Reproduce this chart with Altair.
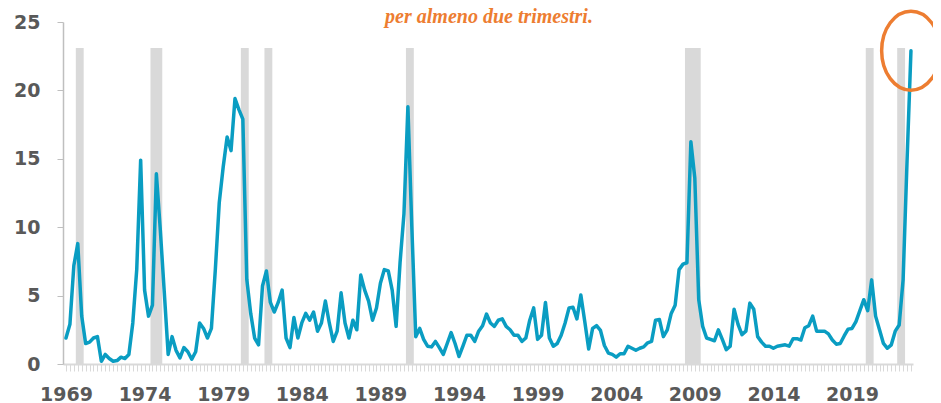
import altair as alt
import pandas as pd

start_year = 1969
values = [
    1.9, 2.9, 7.2, 8.8, 3.5, 1.5, 1.6, 1.9, 2.0, 0.2,
    0.7, 0.4, 0.2, 0.25, 0.5, 0.4, 0.7, 3.0, 6.9, 14.9,
    5.4, 3.5, 4.3, 13.9, 9.8, 5.3, 0.7, 2.0, 1.0, 0.45,
    1.2, 0.9, 0.35, 0.9, 3.0, 2.6, 1.9, 2.6, 6.9, 11.8,
    14.4, 16.6, 15.6, 19.4, 18.6, 17.9, 6.2, 3.7, 1.9, 1.4,
    5.7, 6.8, 4.5, 3.8, 4.5, 5.4, 1.9, 1.2, 3.4, 1.9,
    3.0, 3.7, 3.2, 3.8, 2.4, 3.0, 4.6, 3.0, 1.65, 2.4,
    5.2, 3.0, 1.9, 3.2, 2.5, 6.5, 5.4, 4.6, 3.2, 4.1,
    5.9, 6.9, 6.8, 5.4, 2.75, 7.4, 11.0, 18.8, 10.0, 2.0,
    2.6, 1.8, 1.3, 1.25, 1.65, 1.2, 0.7, 1.5, 2.3, 1.5,
    0.55, 1.3, 2.1, 2.1, 1.65, 2.4, 2.8, 3.65, 3.0, 2.75,
    3.2, 3.3, 2.75, 2.5, 2.1, 2.1, 1.65, 1.9, 3.2, 4.1,
    1.8, 2.1, 4.5, 1.9, 1.3, 1.5, 2.1, 3.0, 4.1, 4.15,
    3.3, 5.05, 3.1, 1.1, 2.6, 2.8, 2.45, 1.35, 0.8, 0.7,
    0.5, 0.75, 0.75, 1.3, 1.15, 1.0, 1.15, 1.25, 1.55, 1.65,
    3.2, 3.25, 2.0, 2.5, 3.7, 4.3, 6.9, 7.3, 7.4, 16.25,
    13.6, 4.7, 2.75, 1.9, 1.8, 1.7, 2.5, 1.8, 1.05, 1.3,
    4.0, 2.9, 2.15, 2.4, 4.45, 4.0, 2.0, 1.6, 1.3, 1.3,
    1.15, 1.3, 1.35, 1.4, 1.3, 1.85, 1.85, 1.75, 2.65, 2.8,
    3.5, 2.4, 2.4, 2.4, 2.2, 1.75, 1.45, 1.5, 2.05, 2.55,
    2.6, 3.1, 3.9, 4.7, 3.9, 6.15, 3.5, 2.5, 1.5, 1.15,
    1.4, 2.4, 2.85, 6.15, 14.8, 22.9,
]
recession_quarters = [
    "1969Q4", "1970Q1", "1974Q3", "1974Q4", "1975Q1", "1980Q2", "1980Q3",
    "1981Q4", "1982Q1", "1990Q4", "1991Q1", "2008Q3", "2008Q4", "2009Q1",
    "2009Q2", "2020Q1", "2020Q2", "2022Q1", "2022Q2",
]
band_top = 23.1
y_ticks = [0, 5, 10, 15, 20, 25]
label_every = 5
subtitle = "per almeno due trimestri."

n = len(values)
t = [start_year + k / 4 for k in range(n)]
qlab = [f"{start_year + k // 4}Q{k % 4 + 1}" for k in range(n)]
df = pd.DataFrame({"k": range(n), "t": t, "q": qlab, "v": values})

# merge consecutive recession quarters into single bands
rq = df[df["q"].isin(recession_quarters)].copy()
rq["run"] = (rq["k"].diff() != 1).cumsum()
rec = rq.groupby("run").agg(t0=("t", "min"), t1=("t", "max")).reset_index()
rec["t0"] = rec["t0"] - 0.125
rec["t1"] = rec["t1"] + 0.125
rec["top"] = band_top
rec["bottom"] = 0.0

last = df.tail(1)

W, H = 850, 342
PAD_L, PAD_T = 55, 14
xscale = alt.Scale(domain=[1968.81, 2022.88], nice=False, zero=False)
yscale = alt.Scale(domain=[0, 25], nice=False, zero=True)

label_font = dict(
    labelFont="DejaVu Sans",
    labelFontWeight="bold",
    labelFontSize=19,
    labelColor="#595959",
)

x_axis = alt.Axis(
    values=t,
    labelExpr=f"((datum.value - {start_year}) % {label_every} == 0) ? format(datum.value, 'd') : ''",
    title=None,
    grid=False,
    tickColor="#D9D9D9",
    tickSize=7,
    tickWidth=1,
    domainColor="#D9D9D9",
    domainWidth=2,
    labelPadding=14,
    labelOverlap=False,
    labelFlush=False,
    labelBound=False,
    **label_font,
)
y_axis = alt.Axis(
    values=y_ticks,
    title=None,
    grid=False,
    tickColor="#BFBFBF",
    tickSize=6,
    domainColor="#BFBFBF",
    domainWidth=1.5,
    labelPadding=17,
    **label_font,
)

bands = alt.Chart(rec).mark_rect(color="#D9D9D9").encode(
    x=alt.X("t0:Q", scale=xscale, axis=x_axis),
    x2="t1:Q",
    y=alt.Y("top:Q", scale=yscale, axis=y_axis),
    y2="bottom:Q",
)

line = alt.Chart(df).mark_line(
    color="#0A9DC2", strokeWidth=3.5, strokeJoin="round", strokeCap="round"
).encode(
    x=alt.X("t:Q", scale=xscale, axis=x_axis),
    y=alt.Y("v:Q", scale=yscale, axis=y_axis),
)

ellipse_path = (
    "M 0.742 0 C 0.742 0.5523 0.4098 1 0 1 C -0.4098 1 -0.742 0.5523 -0.742 0 "
    "C -0.742 -0.5523 -0.4098 -1 0 -1 C 0.4098 -1 0.742 -0.5523 0.742 0 Z"
)
ellipse = alt.Chart(last).mark_point(
    shape=ellipse_path,
    size=6241,
    filled=False,
    stroke="#ED7D31",
    strokeWidth=3.5,
    opacity=1,
    dx=4,
    dy=22.5,
).encode(
    x=alt.X("t:Q", scale=xscale, axis=x_axis),
    y=alt.Y("v:Q", scale=yscale, axis=y_axis),
)

text = alt.Chart(pd.DataFrame({"s": [subtitle]})).mark_text(
    font="Liberation Serif",
    fontStyle="italic",
    fontWeight="bold",
    fontSize=20,
    color="#ED7D31",
    align="center",
    baseline="alphabetic",
).encode(text="s:N", x=alt.value(426), y=alt.value(1))

chart = alt.layer(bands, line, ellipse, text).properties(
    width=W,
    height=H,
    padding={"left": PAD_L, "top": PAD_T, "right": 925 - PAD_L - W, "bottom": 395 - PAD_T - H},
    autosize=alt.AutoSizeParams(type="none"),
).configure_view(stroke=None)

chart.save("out.html", embed_options={"renderer": "svg", "actions": False})
